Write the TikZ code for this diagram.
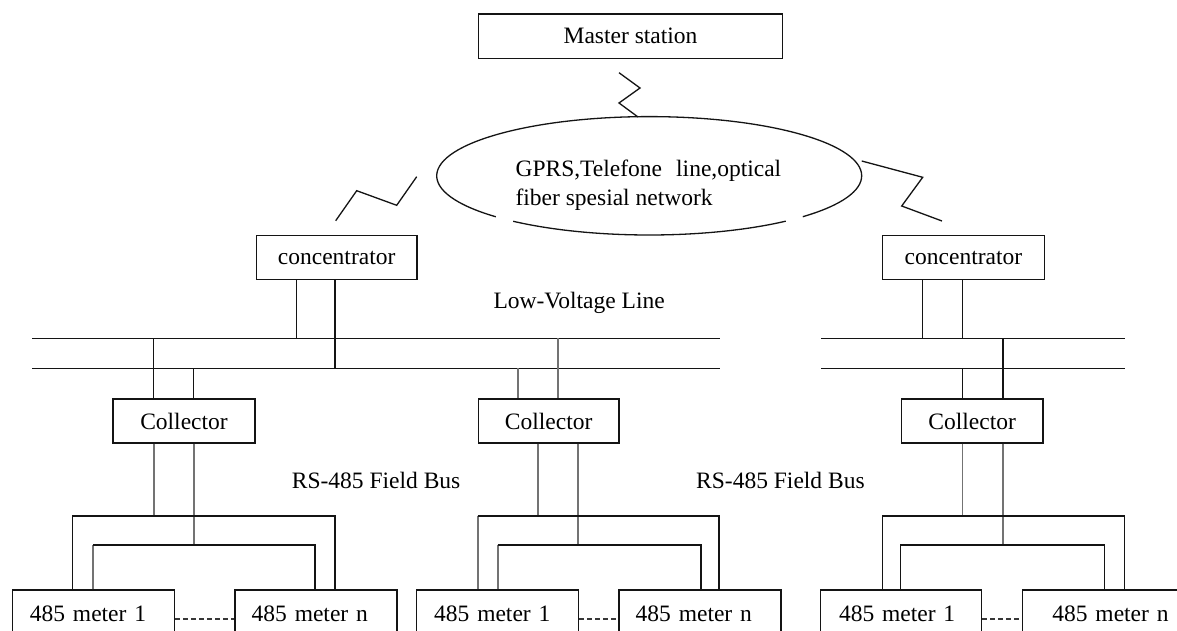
\documentclass[tikz,border=0pt]{standalone}
\usepackage{fontspec}
\setmainfont{Liberation Serif}
\usetikzlibrary{shapes.geometric}
\definecolor{ink}{RGB}{20,20,20}
\definecolor{wiregray}{RGB}{115,115,115}
\newcommand\vwire[4][wire]{\coordinate (tmpx) at (#4,0); \draw[#1] (#2 -| tmpx) -- (#3 -| tmpx);}
\begin{document}
\begin{tikzpicture}[x=1pt,y=-1pt,
  txt/.style={font=\fontsize{23.5}{29}\selectfont, text=black},
  box/.style={draw=ink, line width=1.4pt, anchor=north west, inner sep=0pt, txt},
  meter/.style={box, minimum height=48pt, text width=127pt, align=left, inner xsep=17.5pt},
  wire/.style={draw=ink, line width=1.3pt},
  gwire/.style={draw=wiregray, line width=1.8pt},
  dashline/.style={draw=ink!85, line width=1.4pt, dash pattern=on 5pt off 3pt},
  label/.style={txt, anchor=west, inner sep=0pt}]
\useasboundingbox (0,0) rectangle (1177,631);
\clip (0,0) rectangle (1177,631);
\fill[white] (0,0) rectangle (1177,631);

% boxes
\node[box, minimum width=304.3pt, minimum height=44.4pt] (master) at (477.7,13.3) {Master station};
\node[box, minimum width=160.5pt, minimum height=44pt] (conc1) at (255.7,235) {concentrator};
\node[box, minimum width=161.5pt, minimum height=44pt] (conc2) at (882,235) {concentrator};
\node[box, minimum width=142pt, minimum height=44pt] (col1) at (112.3,398.3) {Collector};
\node[box, minimum width=140.6pt, minimum height=44pt] (col2) at (477.7,398.3) {Collector};
\node[box, minimum width=141.6pt, minimum height=44pt] (col3) at (900.7,398.3) {Collector};
\node[meter] (m11) at (11.7,589.3) {485 meter 1};
\node[meter, inner xsep=16.7pt, text width=128.6pt] (m1n) at (234.3,589.3) {485 meter n};
\node[meter] (m21) at (416,589.3) {485 meter 1};
\node[meter, inner xsep=16.7pt, text width=128.6pt] (m2n) at (618.3,589.3) {485 meter n};
\node[meter, inner xsep=18.3pt, text width=124.4pt] (m31) at (820,589.3) {485 meter 1};
\node[meter, inner xsep=30pt, text width=127pt] (m3n) at (1021.7,589.3) {485 meter n};

% network ellipse (drawn with two small gaps)
\node[ellipse, minimum width=425pt, minimum height=118.4pt, inner sep=0pt] (net) at (649.2,175.8) {};
\draw[wire] ([shift={(136.2:212.5 and 59.2)}]net.center) arc[start angle=136.2, end angle=403.7, x radius=212.5, y radius=59.2];
\draw[wire] ([shift={(50:212.5 and 59.2)}]net.center) arc[start angle=50, end angle=129.8, x radius=212.5, y radius=59.2];
\node[txt, align=left, inner sep=0pt] (nettext) at (648.4,185.5) {GPRS,Telefone\hspace{0.6em}line,optical\\fiber spesial network};

% wireless links
\draw[wire] (619,72.7) -- (640,88) -- (619,103) -- (638,117);
\draw[wire] (335.7,220.7) -- (356.7,190.7) -- (396.7,205.3) -- (416.7,176.7);
\draw[wire] (861.7,161) -- (922.7,177.3) -- (901.7,206) -- (942,221);

% labels
\node[label] (lv) at (493.3,302.7) {Low-Voltage Line};
\node[label] (rs1) at (291.7,480) {RS-485 Field Bus};
\node[label] (rs2) at (696,480) {RS-485 Field Bus};

% low-voltage buses
\coordinate (b1L) at (32.3,338.3); \coordinate (b1R) at (720,338.3);
\coordinate (b2L) at (32.3,368.3); \coordinate (b2R) at (720,368.3);
\coordinate (b3L) at (821,338.3); \coordinate (b3R) at (1124.5,338.3);
\coordinate (b4L) at (821,368.3); \coordinate (b4R) at (1124.5,368.3);
\draw[wire] (b1L) -- (b1R);
\draw[wire] (b2L) -- (b2R);
\draw[wire] (b3L) -- (b3R);
\draw[wire] (b4L) -- (b4R);

% concentrator taps
\vwire{conc1.south}{b1L}{296.7}
\vwire{conc1.south}{b2L}{335}
\vwire{conc2.south}{b3L}{922.7}
\vwire{conc2.south}{b3L}{962.7}

% collector taps
\vwire{b1L}{col1.north}{153.5}
\vwire{b2L}{col1.north}{193.5}
\vwire[gwire]{b1L}{col2.north}{558.3}
\vwire[gwire]{b2L}{col2.north}{517.7}
\vwire{b3L}{col3.north}{1003}
\vwire{b4L}{col3.north}{962.5}

% RS-485 bus
\coordinate (h1) at (0,516);
\coordinate (h2) at (0,545);
\vwire[gwire]{col1.south}{h1}{154}
\vwire[gwire]{col1.south}{h2}{194}
\vwire[gwire]{col2.south}{h1}{537.7}
\vwire[gwire]{col2.south}{h2}{578.3}
\vwire[gwire]{col3.south}{h1}{962.5}
\vwire[gwire]{col3.south}{h2}{1003}

\coordinate (o1a) at (72.3,516); \coordinate (o1b) at (335,516);
\coordinate (i1a) at (93.3,545); \coordinate (i1b) at (315,545);
\draw[wire] (m11.north -| o1a) -- (o1a) -- (o1b) -- (m1n.north -| o1b);
\draw[gwire] (m11.north -| i1a) -- (i1a);
\draw[wire] (i1a) -- (i1b) -- (m1n.north -| i1b);

\coordinate (o2a) at (477.7,516); \coordinate (o2b) at (719,516);
\coordinate (i2a) at (497.7,545); \coordinate (i2b) at (701,545);
\draw[gwire] (m21.north -| o2a) -- (o2a);
\draw[wire] (o2a) -- (o2b) -- (m2n.north -| o2b);
\draw[gwire] (m21.north -| i2a) -- (i2a);
\draw[wire] (i2a) -- (i2b) -- (m2n.north -| i2b);

\coordinate (o3a) at (882.3,516); \coordinate (o3b) at (1124.3,516);
\coordinate (i3a) at (900.7,545); \coordinate (i3b) at (1104.3,545);
\draw[wire] (m31.north -| o3a) -- (o3a) -- (o3b) -- (m3n.north -| o3b);
\draw[wire] (m31.north -| i3a) -- (i3a) -- (i3b) -- (m3n.north -| i3b);

% dashed links between meters
\draw[dashline] ([yshift=-5pt]m11.east) -- ([yshift=-5pt]m1n.west);
\draw[dashline] ([yshift=-5pt]m21.east) -- ([yshift=-5pt]m2n.west);
\draw[dashline] ([yshift=-5pt]m31.east) -- ([yshift=-5pt]m3n.west);
\end{tikzpicture}
\end{document}
